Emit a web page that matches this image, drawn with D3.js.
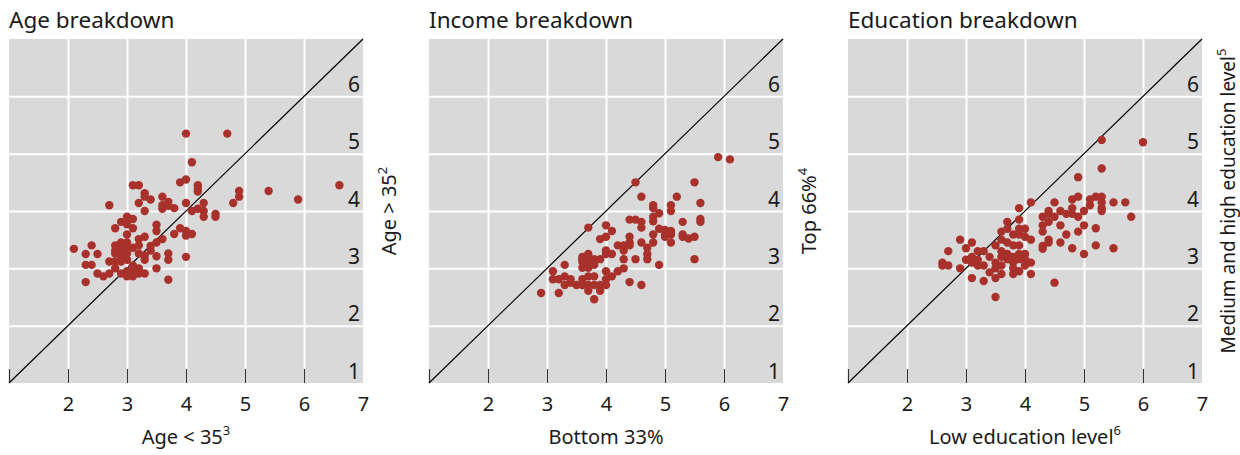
<!DOCTYPE html>
<html>
<head>
<meta charset="utf-8">
<script src="https://cdn.jsdelivr.net/npm/d3@7"></script>
<style>
  body { margin: 0; background: #fff; }
  svg text { font-family: "Noto Sans", "Open Sans", sans-serif; fill: #1a1a1a; }
</style>
</head>
<body>
<svg id="chart" width="1240" height="455"></svg>
<script>
// panel titles and axis labels
var titles = ["Age breakdown", "Income breakdown", "Education breakdown"];
var xLabels = [["Age < 35", "3"], ["Bottom 33%", ""], ["Low education level", "6"]];
var yLabels = [["Age > 35", "2"], ["Top 66%", "4"], ["Medium and high education level", "5"]];
var xTickLabels = [2, 3, 4, 5, 6, 7];
var yTickLabels = [1, 2, 3, 4, 5, 6];
var gridValues = [2, 3, 4, 5, 6];

// [x, y] pairs
var ageData = [
  [4.0,5.35],[4.7,5.35],[4.1,4.85],[3.9,4.5],[4.0,4.55],[3.1,4.45],[3.2,4.45],[4.2,4.45],[4.2,4.39],[4.2,4.34],
  [4.9,4.35],[4.9,4.25],[5.4,4.35],[6.6,4.45],[5.9,4.2],[4.8,4.14],[3.3,4.31],[3.3,4.25],[3.4,4.2],[3.2,4.14],
  [3.6,4.25],[3.7,4.16],[3.6,4.1],[3.6,4.04],[3.7,4.09],[3.8,4.05],[4.0,4.14],[4.3,4.14],[4.1,4.0],[4.2,4.04],
  [4.3,4.0],[4.3,3.9],[4.5,3.95],[4.5,3.9],[2.7,4.1],[3.3,4.0],
  [3.0,3.9],[3.1,3.86],[2.9,3.81],[3.0,3.77],[3.1,3.7],[2.8,3.7],[3.5,3.76],[3.5,3.65],[3.0,3.59],[3.9,3.7],
  [4.0,3.65],[4.0,3.57],[4.1,3.6],[3.8,3.6],[3.3,3.55],[3.2,3.51],[3.6,3.51],[3.5,3.45],[3.4,3.39],[3.4,3.31],
  [2.1,3.34],[2.4,3.4],[2.3,3.25],[2.5,3.25],
  [2.8,3.4],[2.9,3.45],[3.0,3.45],[2.8,3.31],[2.9,3.34],[3.0,3.36],[3.1,3.36],[3.2,3.4],[2.8,3.26],[2.9,3.22],
  [3.0,3.26],[3.2,3.26],[3.3,3.22],[3.3,3.15],[3.5,3.21],[3.7,3.26],[3.7,3.15],[4.0,3.2],
  [2.7,3.12],[2.8,3.12],[2.9,3.12],[3.0,3.15],[2.3,3.06],[2.4,3.06],[2.8,3.0],[3.1,3.05],[3.2,3.0],[3.5,3.0],
  [2.5,2.91],[2.6,2.86],[2.7,2.91],[2.9,2.91],[3.0,2.86],[3.1,2.86],[3.2,2.91],[3.3,2.91],[3.1,2.96],[3.2,2.96],
  [3.0,2.95],[2.3,2.76],[3.7,2.8]
];

var incomeData = [
  [5.9,4.94],[6.1,4.9],[4.5,4.5],[5.5,4.5],[4.6,4.25],[5.2,4.25],[5.6,4.14],[4.8,4.1],[4.8,4.05],[5.1,4.1],
  [5.1,4.0],[4.9,3.96],[4.8,3.9],[4.8,3.82],[4.4,3.85],[4.5,3.85],[4.6,3.81],[4.6,3.71],[5.3,3.81],[5.6,3.86],
  [5.6,3.81],[3.7,3.71],[4.0,3.75],[4.1,3.65],
  [4.9,3.69],[5.0,3.67],[5.1,3.65],[5.0,3.59],[5.1,3.59],[5.0,3.55],[5.1,3.62],[4.8,3.59],[5.3,3.59],[5.3,3.55],
  [5.4,3.52],[5.5,3.55],[5.1,3.45],[4.8,3.45],[4.6,3.45],[4.4,3.55],[4.4,3.45],[3.9,3.51],[4.0,3.55],[4.2,3.4],
  [4.3,3.4],[4.4,3.4],[4.7,3.36],[4.7,3.25],[4.7,3.16],[4.0,3.31],[4.0,3.25],[4.1,3.25],[4.3,3.31],[4.3,3.16],
  [4.5,3.16],[4.9,3.06],[5.5,3.16],
  [3.6,3.2],[3.7,3.25],[3.6,3.11],[3.7,3.11],[3.6,3.01],[3.7,3.01],[3.8,3.16],[3.9,3.16],[3.8,3.06],[3.6,3.16],
  [3.7,3.18],
  [3.3,3.06],[3.1,2.95],[3.1,2.81],[3.3,2.86],[3.2,2.81],[3.4,2.81],[3.3,2.71],[3.4,2.75],[3.5,2.71],[3.6,2.81],
  [3.6,2.71],[3.7,2.86],[3.8,2.86],[3.7,2.71],[3.8,2.71],[3.9,2.71],[4.0,2.81],[4.0,2.71],[3.9,2.61],[3.7,2.61],
  [4.0,2.95],[4.1,2.86],[4.2,2.95],[4.3,3.0],[2.9,2.57],[3.2,2.57],[3.8,2.46],[4.4,2.76],[4.6,2.71]
];

var educationData = [
  [5.3,5.24],[6.0,5.2],[5.3,4.74],[4.9,4.59],[4.1,4.15],[4.5,4.15],[4.8,4.2],[4.9,4.25],[5.1,4.2],[5.2,4.25],
  [5.3,4.25],[5.3,4.15],[5.3,4.05],[5.3,4.0],[5.1,4.1],[5.5,4.15],[5.7,4.15],[5.8,3.9],[3.9,4.05],
  [4.4,4.0],[4.4,3.95],[4.6,4.0],[4.7,3.95],[4.8,4.05],[4.8,3.95],[4.9,3.9],[5.0,4.0],
  [4.3,3.9],[4.5,3.9],[4.4,3.81],[3.9,3.85],[3.7,3.81],[4.3,3.75],[4.3,3.64],[4.6,3.75],[5.0,3.75],[5.2,3.7],
  [4.9,3.64],[4.7,3.59],
  [3.6,3.64],[3.7,3.69],[3.9,3.69],[4.0,3.69],[3.8,3.59],[3.9,3.59],[4.0,3.55],[4.1,3.5],[4.4,3.5],[4.4,3.45],
  [4.3,3.39],[4.3,3.34],[4.6,3.45],[4.8,3.35],[5.2,3.4],[5.5,3.35],[5.0,3.25],
  [3.6,3.5],[3.5,3.4],[3.7,3.45],[3.8,3.4],[3.9,3.4],[3.6,3.3],[3.7,3.25],[3.8,3.2],[3.9,3.25],[4.0,3.25],
  [3.9,3.16],[4.0,3.16],[4.1,3.1],[3.8,3.1],[3.7,3.16],[3.6,3.2],[3.5,3.1],[3.6,3.05],[3.5,3.0],[3.6,2.9],
  [3.8,3.0],[3.8,2.9],[3.9,2.95],[4.0,3.05],[4.1,2.9],
  [2.9,3.5],[3.1,3.45],[3.0,3.35],[3.2,3.3],[3.3,3.3],[3.4,3.2],[3.1,3.2],[3.2,3.15],[3.0,3.15],[3.1,3.1],
  [3.2,3.05],[3.3,3.05],[2.9,3.0],[2.7,3.3],[2.6,3.1],[2.7,3.05],[2.6,3.05],
  [3.4,2.93],[3.5,2.83],[3.3,2.78],[3.1,2.83],[4.5,2.75],[3.5,2.5]
];

var datasets = [ageData, incomeData, educationData];

var svg = d3.select("#chart"),
    panelLeft = [9, 429, 848],
    yTitleCenter = [172, 172, 162],   // vertical centre of the rotated titles, from plot top
    yTitleSize = [20, 20, 19],
    plotTop = 39,
    width = 354,
    height = 344;

var x = d3.scaleLinear().domain([1, 7]).range([0, width]),
    y = d3.scaleLinear().domain([1, 7]).range([height, 0]);

datasets.forEach(function (data, i) {
    var g = svg.append("g").attr("transform", "translate(" + panelLeft[i] + "," + plotTop + ")");

    g.append("rect")
        .attr("width", width)
        .attr("height", height)
        .attr("fill", "#d9d9d9");

    // white grid
    g.append("g")
        .attr("transform", "translate(0," + height + ")")
        .call(d3.axisBottom(x).tickValues(gridValues).tickSize(-height).tickFormat(""))
        .call(function (a) { a.select(".domain").remove(); })
        .selectAll("line").attr("stroke", "#fff").attr("stroke-width", 2);

    g.append("g")
        .call(d3.axisLeft(y).tickValues(gridValues).tickSize(-width).tickFormat(""))
        .call(function (a) { a.select(".domain").remove(); })
        .selectAll("line").attr("stroke", "#fff").attr("stroke-width", 2);

    // inward x ticks
    g.append("g")
        .attr("transform", "translate(0," + height + ")")
        .call(d3.axisBottom(x).tickValues([1, 2, 3, 4, 5, 6]).tickSize(-14).tickFormat(""))
        .call(function (a) { a.select(".domain").remove(); })
        .selectAll("line").attr("stroke", "#333").attr("stroke-width", 1.2);

    // x tick labels
    var xa = g.append("g")
        .attr("transform", "translate(0," + height + ")")
        .call(d3.axisBottom(x).tickValues(xTickLabels).tickSize(0).tickPadding(14).tickFormat(d3.format("d")));
    xa.select(".domain").remove();
    xa.attr("font-size", null).attr("font-family", null);
    xa.selectAll("text").attr("font-size", 20).attr("fill", "#1a1a1a");

    // y tick labels inside plot, above the grid line
    var ya = g.append("g")
        .attr("transform", "translate(" + (width - 3) + ",0)")
        .call(d3.axisLeft(y).tickValues(yTickLabels).tickSize(0).tickPadding(0).tickFormat(d3.format("d")));
    ya.select(".domain").remove();
    ya.attr("font-size", null).attr("font-family", null);
    ya.selectAll("text").attr("font-size", 21).attr("fill", "#1a1a1a").attr("dy", -5);

    // identity line
    g.append("line")
        .attr("x1", x(1)).attr("y1", y(1))
        .attr("x2", x(7)).attr("y2", y(7))
        .attr("stroke", "#000")
        .attr("stroke-width", 1.2);

    g.selectAll(".dot")
        .data(data)
        .enter().append("circle")
        .attr("class", "dot")
        .attr("cx", function (d) { return x(d[0]); })
        .attr("cy", function (d) { return y(d[1]); })
        .attr("r", 4.2)
        .attr("fill", "#a8312c");

    g.append("text")
        .attr("x", 0)
        .attr("y", -11)
        .attr("font-size", 22.5)
        .text(titles[i]);

    var xt = g.append("text")
        .attr("x", width / 2)
        .attr("y", height + 61)
        .attr("text-anchor", "middle")
        .attr("font-size", 20);
    xt.append("tspan").text(xLabels[i][0]);
    if (xLabels[i][1]) xt.append("tspan").attr("dy", -9).attr("font-size", 13).text(xLabels[i][1]);

    var yt = g.append("text")
        .attr("transform", "translate(" + (width + 33) + "," + yTitleCenter[i] + ") rotate(-90)")
        .attr("text-anchor", "middle")
        .attr("font-size", yTitleSize[i]);
    yt.append("tspan").text(yLabels[i][0]);
    if (yLabels[i][1]) yt.append("tspan").attr("dy", -9).attr("font-size", 13).text(yLabels[i][1]);
});
</script>
</body>
</html>
